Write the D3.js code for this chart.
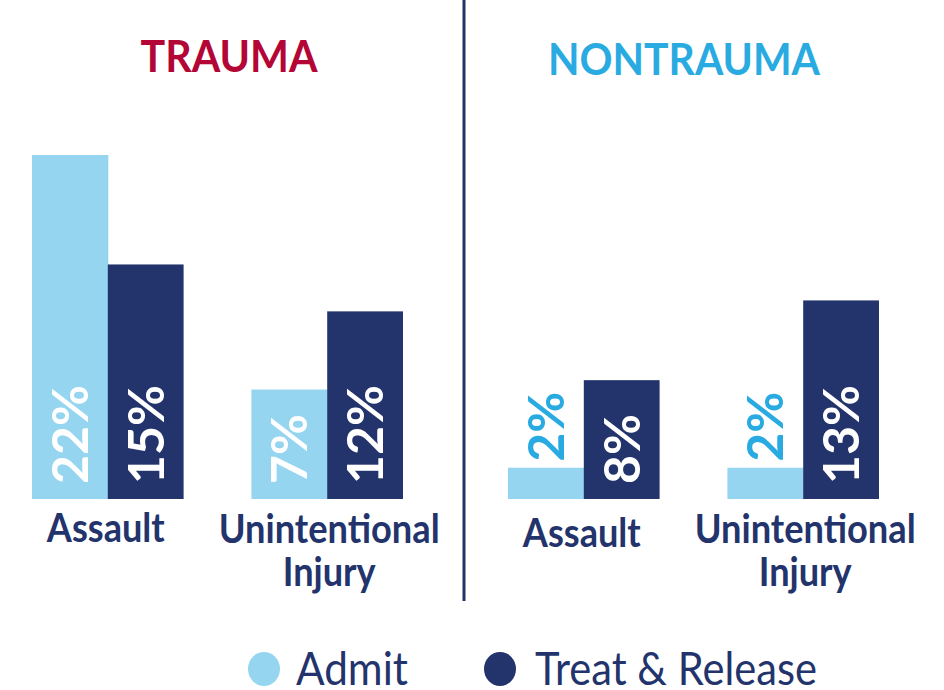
<!DOCTYPE html>
<html><head><meta charset="utf-8">
<script src="https://cdn.jsdelivr.net/npm/d3@7"></script>
<style>html,body{margin:0;padding:0;background:#fff}svg{display:block}</style>
</head><body>
<svg id="chart" width="944" height="690"></svg>
<script>
const panels = ["TRAUMA", "NONTRAUMA"];
const categories = ["Assault", "Unintentional Injury"];
const series = ["Admit", "Treat & Release"];
const traumaAdmit = [22, 7];
const traumaTreat = [15, 12];
const nontraumaAdmit = [2, 2];
const nontraumaTreat = [7.6, 12.7];

const colors = { "Admit": "#95d5ef", "Treat & Release": "#23346c" };
const titleColors = { "TRAUMA": "#b30536", "NONTRAUMA": "#29abe2" };
const navy = "#23346c";
const font = "Lato, 'Open Sans', sans-serif";

const svg = d3.select("#chart");
const y = d3.scaleLinear().domain([0, 22]).range([499, 155]);

const panelData = [
  { name: "TRAUMA", range: [32, 403], admit: traumaAdmit, treat: traumaTreat, titleX: 229, titleY: 72, titleLen: 177 },
  { name: "NONTRAUMA", range: [508, 879], admit: nontraumaAdmit, treat: nontraumaTreat, titleX: 684, titleY: 75, titleLen: 272 }
];

panelData.forEach(p => {
  const x0 = d3.scaleBand().domain(categories).range(p.range).paddingInner(0.309).paddingOuter(0);
  const x1 = d3.scaleBand().domain(series).range([0, x0.bandwidth()]);
  const g = svg.append("g");

  g.append("text").text(p.name)
    .attr("x", p.titleX).attr("y", p.titleY)
    .attr("text-anchor", "middle")
    .attr("font-family", font).attr("font-weight", 700).attr("font-size", 44)
    .attr("textLength", p.titleLen).attr("lengthAdjust", "spacingAndGlyphs")
    .attr("fill", titleColors[p.name]);

  categories.forEach((c, i) => {
    const vals = [p.admit[i], p.treat[i]];
    series.forEach((s, j) => {
      const v = vals[j];
      const bx = x0(c) + x1(s);
      g.append("rect")
        .attr("x", bx).attr("y", y(v))
        .attr("width", x1.bandwidth() + (j === 0 ? 0.5 : 0))
        .attr("height", y(0) - y(v))
        .attr("fill", colors[s]);
      const cx = bx + x1.bandwidth() / 2;
      const inside = v >= 5;
      const startY = inside ? y(0) - 15 : y(v) - 6;
      g.append("text")
        .text(Math.round(v) + "%")
        .attr("transform", `translate(${cx + 18},${startY}) rotate(-90)`)
        .attr("font-family", font).attr("font-weight", 700).attr("font-size", 50)
        .attr("fill", inside ? "#ffffff" : "#29abe2");
    });
    const words = c.split(" ");
    const lx = x0(c) + x0.bandwidth() / 2;
    if (words.length === 1) {
      g.append("text").text(c)
        .attr("x", lx - 2).attr("y", p.name === "TRAUMA" ? 542 : 547)
        .attr("text-anchor", "middle")
        .attr("font-family", font).attr("font-weight", 700).attr("font-size", 41)
        .attr("textLength", 118).attr("lengthAdjust", "spacingAndGlyphs")
        .attr("fill", navy);
    } else {
      g.append("text").text(words[0])
        .attr("x", lx + 2).attr("y", 543)
        .attr("text-anchor", "middle")
        .attr("font-family", font).attr("font-weight", 700).attr("font-size", 41)
        .attr("textLength", 221).attr("lengthAdjust", "spacingAndGlyphs")
        .attr("fill", navy);
      g.append("text").text(words[1])
        .attr("x", lx + 2).attr("y", 586)
        .attr("text-anchor", "middle")
        .attr("font-family", font).attr("font-weight", 700).attr("font-size", 41)
        .attr("textLength", 93).attr("lengthAdjust", "spacingAndGlyphs")
        .attr("fill", navy);
    }
  });
});

svg.append("line").attr("x1", 464).attr("x2", 464).attr("y1", 0).attr("y2", 601)
  .attr("stroke", navy).attr("stroke-width", 3);

const legend = [
  { s: "Admit", cx: 264, tx: 296, len: 112 },
  { s: "Treat & Release", cx: 500, tx: 535, len: 282 }
];
legend.forEach(l => {
  svg.append("ellipse").attr("cx", l.cx).attr("cy", 669).attr("rx", 16).attr("ry", 17).attr("fill", colors[l.s]);
  svg.append("text").text(l.s)
    .attr("x", l.tx).attr("y", 685)
    .attr("font-family", font).attr("font-weight", 400).attr("font-size", 46)
    .attr("textLength", l.len).attr("lengthAdjust", "spacingAndGlyphs")
    .attr("fill", navy);
});
</script>
</body></html>
